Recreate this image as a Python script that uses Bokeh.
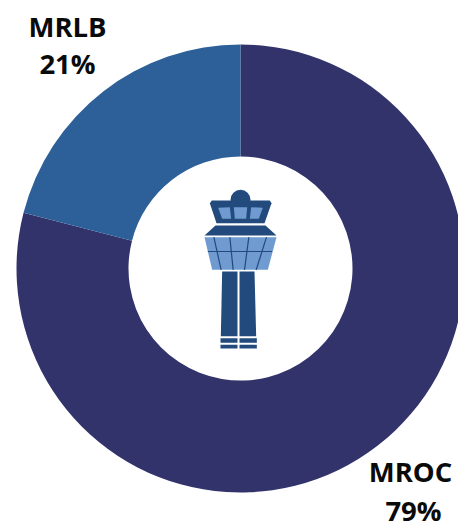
from bokeh.plotting import figure
from bokeh.embed import file_html
from bokeh.resources import INLINE
from bokeh.core.properties import value
import math

W, H = 458, 525
categories = ["MROC", "MRLB"]
shares = [79, 21]
colors = ["#32336b", "#2d6098"]
label_text = ["MROC", "79%", "MRLB", "21%"]

DARK = "#234a7d"
LIGHT = "#6f9bd1"

p = figure(width=W, height=H, x_range=(0, W), y_range=(0, H), toolbar_location=None,
           output_backend="svg", min_border=0, outline_line_color=None,
           background_fill_color="white", border_fill_color="white")
p.axis.visible = False
p.grid.visible = False

Y = lambda v: H - v
cx, cy, ro, ri = 240, Y(268), 224, 112

# clockwise from 12 o'clock
a = math.pi / 2
for v, c in zip(shares, colors):
    b = a - v / sum(shares) * 2 * math.pi
    p.annular_wedge([cx], [cy], ri, ro, [b], [a], fill_color=c, line_color=None)
    a = b

# tower icon, in zoom-crop coordinates of the reference
zx = lambda v: 190 + v / 3
zy = lambda v: Y(170 + v / 3)
def poly(pts, color):
    p.patch([zx(q[0]) for q in pts], [zy(q[1]) for q in pts], fill_color=color, line_color=None)
def seg(a_, b_, color=DARK, w=1.2):
    p.line([zx(a_[0]), zx(b_[0])], [zy(a_[1]), zy(b_[1])], line_color=color, line_width=w)

p.ellipse([zx(150)], [zy(88)], 20, 20, fill_color=DARK, line_color=None)
poly([(58,98),(64,90),(238,90),(243,98),(222,158),(78,158)], DARK)
poly([(83,112),(118,110),(122,145),(95,145)], LIGHT)
poly([(130,110),(170,110),(167,145),(133,145)], LIGHT)
poly([(182,110),(217,112),(205,145),(178,145)], LIGHT)
poly([(75,165),(225,165),(258,195),(42,195)], DARK)
poly([(42,200),(258,200),(232,298),(65,298)], LIGHT)
seg((52,243),(245,243))
seg((70,200),(92,298))
seg((118,200),(128,298))
seg((175,200),(162,298))
seg((228,200),(197,298))
for x0, x1, x2, x3 in [(95,141,141,91),(147,192,197,147)]:
    poly([(x0,303),(x1,303),(x2,497),(x3,497)], DARK)
for x0, x1 in [(90,141),(147,199)]:
    poly([(x0,503),(x1,503),(x1,517),(x0,517)], DARK)
    poly([(x0,523),(x1,523),(x1,534),(x0,534)], DARK)

xs = [410, 413, 67, 67]
ys = [471, 510, 26, 63]
p.text(xs, [Y(v) for v in ys], text=label_text, text_font=value("Open Sans"),
       text_font_style="bold", text_font_size="27.5px", text_color="#0a0a0a",
       text_align="center", text_baseline="middle")

open("out.html", "w").write(file_html(p, INLINE))
